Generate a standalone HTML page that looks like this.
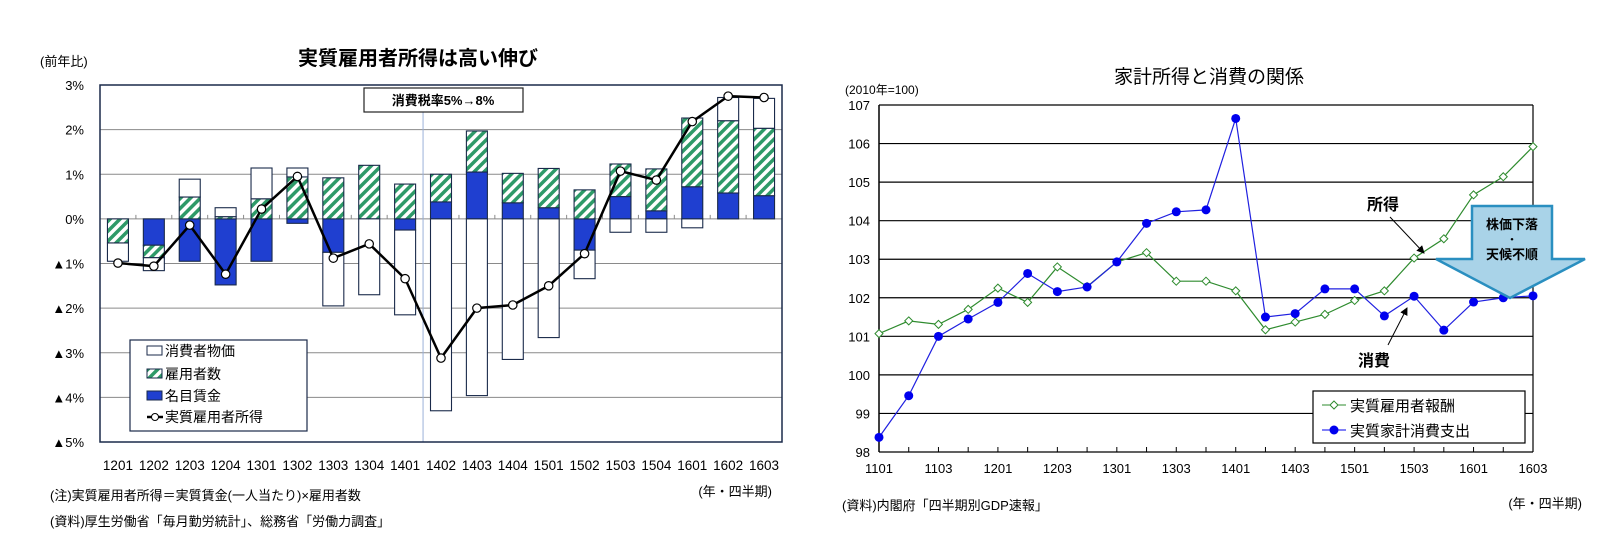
<!DOCTYPE html>
<html><head><meta charset="utf-8">
<style>
html,body{margin:0;padding:0;background:#fff;}
svg{display:block;font-family:"Liberation Sans","Noto Sans CJK JP",sans-serif;}
</style></head>
<body>
<svg id="root" width="1619" height="550" viewBox="0 0 1619 550" xmlns="http://www.w3.org/2000/svg">
<defs>
<pattern id="hatch" width="7" height="7" patternUnits="userSpaceOnUse" patternTransform="rotate(45)">
<rect width="7" height="7" fill="#fff"/>
<rect width="3.5" height="7" fill="#2e9a68"/>
</pattern>
<marker id="arr" markerWidth="8" markerHeight="8" refX="7" refY="4" orient="auto"><path d="M0,0 L8,4 L0,8 z" fill="#000"/></marker>
</defs>

<!-- LEFT CHART static -->
<text x="40" y="66" font-size="13">(前年比)</text>
<text x="418" y="65" font-size="20" font-weight="bold" text-anchor="middle">実質雇用者所得は高い伸び</text>
<g id="leftGrid"></g>
<g id="leftBars"></g>
<g id="leftLine"></g>
<rect x="100" y="85" width="682" height="357" fill="none" stroke="#1a2a4a" stroke-width="1.5"/>
<g>
<rect x="364" y="88" width="159" height="24" fill="#fff" stroke="#222" stroke-width="1.2"/>
<text x="443" y="105" font-size="13" font-weight="bold" text-anchor="middle">消費税率5%→8%</text>
</g>
<g>
<rect x="130" y="340" width="177" height="91" fill="#fff" stroke="#1a2a4a" stroke-width="1.2"/>
<rect x="147" y="346" width="15" height="9" fill="#fff" stroke="#1a2a4a"/>
<text x="165" y="356" font-size="14">消費者物価</text>
<rect x="147" y="369" width="15" height="9" fill="url(#hatch)" stroke="#1a2a4a"/>
<text x="165" y="379" font-size="14">雇用者数</text>
<rect x="147" y="391" width="15" height="9" fill="#1f3fd0" stroke="#1a2a4a"/>
<text x="165" y="401" font-size="14">名目賃金</text>
<line x1="147" y1="417" x2="163" y2="417" stroke="#000" stroke-width="2.5"/>
<circle cx="155" cy="417" r="3.5" fill="#fff" stroke="#000"/>
<text x="165" y="422" font-size="14">実質雇用者所得</text>
</g>
<text x="50" y="500" font-size="13">(注)実質雇用者所得＝実質賃金(一人当たり)×雇用者数</text>
<text x="50" y="526" font-size="13">(資料)厚生労働省「毎月勤労統計」、総務省「労働力調査」</text>
<text x="772" y="496" font-size="13" text-anchor="end">(年・四半期)</text>

<!-- RIGHT CHART static -->
<text x="1209" y="83" font-size="19" text-anchor="middle">家計所得と消費の関係</text>
<text x="845" y="94" font-size="12">(2010年=100)</text>
<g id="rightGrid"></g>
<g id="rightLines"></g>
<g>
<polygon points="1472,206 1552,206 1552,259 1585,259 1510,298 1436,259 1472,259" fill="#a9d3e8" stroke="#2a8fc0" stroke-width="2.5"/>
<text x="1512" y="229" font-size="13" font-weight="bold" text-anchor="middle">株価下落</text>
<text x="1512" y="243" font-size="10" font-weight="bold" text-anchor="middle">・</text>
<text x="1512" y="259" font-size="13" font-weight="bold" text-anchor="middle">天候不順</text>
</g>
<text x="1367" y="210" font-size="16" font-weight="bold">所得</text>
<line x1="1390" y1="217" x2="1424" y2="253" stroke="#000" stroke-width="1" marker-end="url(#arr)"/>
<text x="1358" y="366" font-size="16" font-weight="bold">消費</text>
<line x1="1388" y1="345" x2="1407" y2="308" stroke="#000" stroke-width="1" marker-end="url(#arr)"/>
<g>
<rect x="1313" y="391" width="212" height="52" fill="#fff" stroke="#000" stroke-width="1.2"/>
<line x1="1322" y1="405" x2="1346" y2="405" stroke="#2e8b2e"/>
<path d="M1334,401 L1338,405 L1334,409 L1330,405 Z" fill="#fff" stroke="#2e8b2e"/>
<text x="1350" y="411" font-size="15">実質雇用者報酬</text>
<line x1="1322" y1="430" x2="1346" y2="430" stroke="#0000ee"/>
<circle cx="1334" cy="430" r="4.5" fill="#0000ee"/>
<text x="1350" y="436" font-size="15">実質家計消費支出</text>
</g>
<text x="842" y="510" font-size="13">(資料)内閣府「四半期別GDP速報」</text>
<text x="1582" y="508" font-size="13" text-anchor="end">(年・四半期)</text>
</svg>

<script>
// ---- Left chart data ----
const leftCategories = ["1201","1202","1203","1204","1301","1302","1303","1304","1401","1402","1403","1404","1501","1502","1503","1504","1601","1602","1603"];
const wageValues = [0, -0.59, -0.95, -1.48, -0.95, -0.1, -0.75, 0, -0.25, 0.38, 1.05, 0.36, 0.25, -0.7, 0.5, 0.18, 0.72, 0.58, 0.52];
const employeeValues = [-0.54, -0.28, 0.49, 0.05, 0.45, 0.94, 0.92, 1.2, 0.78, 0.62, 0.92, 0.66, 0.88, 0.65, 0.73, 0.94, 1.54, 1.62, 1.51];
const cpiValues = [-0.41, -0.29, 0.40, 0.2, 0.69, 0.2, -1.2, -1.7, -1.9, -4.3, -3.96, -3.15, -2.66, -0.64, -0.3, -0.3, -0.2, 0.52, 0.67];
const realIncomeValues = [-0.99, -1.06, -0.14, -1.24, 0.22, 0.95, -0.88, -0.56, -1.34, -3.12, -2.0, -1.93, -1.5, -0.78, 1.07, 0.87, 2.18, 2.75, 2.72];
const leftTicks = [3, 2, 1, 0, -1, -2, -3, -4, -5];
const leftTickLabels = ["3%","2%","1%","0%","▲1%","▲2%","▲3%","▲4%","▲5%"];

// ---- Right chart data ----
const rightCategories = ["1101","1102","1103","1104","1201","1202","1203","1204","1301","1302","1303","1304","1401","1402","1403","1404","1501","1502","1503","1504","1601","1602","1603"];
const compensationValues = [101.07,101.4,101.31,101.7,102.25,101.88,102.8,102.29,102.93,103.17,102.43,102.43,102.18,101.17,101.37,101.57,101.93,102.18,103.03,103.53,104.67,105.14,105.92];
const consumptionValues = [98.38,99.46,101.0,101.45,101.88,102.63,102.16,102.28,102.93,103.93,104.23,104.28,106.65,101.5,101.59,102.23,102.23,101.53,102.04,101.16,101.89,102.0,102.05];
const rightTicks = [107,106,105,104,103,102,101,100,99,98];

const NS = "http://www.w3.org/2000/svg";
function mk(tag, attrs, parent) {
  const e = document.createElementNS(NS, tag);
  for (const k in attrs) e.setAttribute(k, attrs[k]);
  parent.appendChild(e);
  return e;
}

// Left axes
const L = {x0:100, x1:782, yTop:85, yBot:442, vTop:3, vBot:-5};
const lBand = (L.x1 - L.x0) / leftCategories.length;
const lx = i => L.x0 + (i + 0.5) * lBand;
const ly = v => L.yTop + (L.vTop - v) / (L.vTop - L.vBot) * (L.yBot - L.yTop);

const lg = document.getElementById('leftGrid');
leftTicks.forEach((t, i) => {
  const g = mk('line', {x1:L.x0, x2:L.x1, y1:ly(t), y2:ly(t), stroke:'#8a8a8a', 'stroke-width':1}, lg);
  
  
  const tx = mk('text', {x:84, y:ly(t)+5, 'font-size':13, 'text-anchor':'end'}, lg);
  tx.textContent = leftTickLabels[i];
  
  
});
leftCategories.forEach((c, i) => {
  const tk = mk('line', {x1:L.x0 + i*lBand, x2:L.x0 + i*lBand, y1:ly(0), y2:ly(0)-4, stroke:'#8a8a8a'}, lg);
  
  
  const tx = mk('text', {x:lx(i), y:470, 'font-size':13.5, 'text-anchor':'middle'}, lg);
  tx.textContent = c;
  
  
});
const divX = L.x0 + 9 * lBand;
const dv = mk('line', {x1:divX, x2:divX, y1:112, y2:L.yBot, stroke:'#9ab0d8', 'stroke-width':1}, lg);



const lb = document.getElementById('leftBars');
const bw = 21;
leftCategories.forEach((c, i) => {
  let pos = 0, neg = 0;
  const parts = [[wageValues[i], '#1f3fd0', 'bar-wage'], [employeeValues[i], 'url(#hatch)', 'bar-employees'], [cpiValues[i], '#ffffff', 'bar-cpi']];
  parts.forEach(p => {
    const v = p[0];
    if (v === 0) return;
    let a, b;
    if (v > 0) { a = pos; b = pos + v; pos = b; } else { a = neg; b = neg + v; neg = b; }
    const yA = ly(Math.max(a, b)), yB = ly(Math.min(a, b));
    const r = mk('rect', {x:lx(i)-bw/2, y:yA, width:bw, height:Math.max(0.5, yB-yA), fill:p[1], stroke:'#1a2a4a', 'stroke-width':1.1}, lb);
    
    
  });
});

const ll = document.getElementById('leftLine');
const lpts = realIncomeValues.map((v, i) => lx(i) + ',' + ly(v)).join(' ');
const pl = mk('polyline', {points:lpts, fill:'none', stroke:'#000', 'stroke-width':2.5}, ll);


realIncomeValues.forEach((v, i) => {
  const m = mk('circle', {cx:lx(i), cy:ly(v), r:4.2, fill:'#fff', stroke:'#000', 'stroke-width':1.2}, ll);
  
  
});

// Right axes
const R = {x0:879, x1:1533, yTop:105, yBot:452, vTop:107, vBot:98};
const rStep = (R.x1 - R.x0) / (rightCategories.length - 1);
const rx = i => R.x0 + i * rStep;
const ry = v => R.yTop + (R.vTop - v) / (R.vTop - R.vBot) * (R.yBot - R.yTop);

const rg = document.getElementById('rightGrid');
rightTicks.forEach(t => {
  const g = mk('line', {x1:R.x0, x2:R.x1, y1:ry(t), y2:ry(t), stroke:'#000', 'stroke-width':1.2}, rg);
  
  
  const tx = mk('text', {x:870, y:ry(t)+5, 'font-size':13, 'text-anchor':'end'}, rg);
  tx.textContent = String(t);
  
  
});
const ax1 = mk('line', {x1:R.x0, x2:R.x0, y1:R.yTop, y2:R.yBot, stroke:'#000', 'stroke-width':1.5}, rg);


const ax2 = mk('line', {x1:R.x1, x2:R.x1, y1:R.yTop, y2:R.yBot, stroke:'#000', 'stroke-width':1.2}, rg);


rightCategories.forEach((c, i) => {
  const tk = mk('line', {x1:rx(i), x2:rx(i), y1:R.yBot, y2:R.yBot-5, stroke:'#000'}, rg);
  
  
  if (i % 2 === 0) {
    const tx = mk('text', {x:rx(i), y:473, 'font-size':13, 'text-anchor':'middle'}, rg);
    tx.textContent = c;
    
    
  }
});

const rl = document.getElementById('rightLines');
const gl = mk('polyline', {points:compensationValues.map((v,i)=>rx(i)+','+ry(v)).join(' '), fill:'none', stroke:'#2e8b2e', 'stroke-width':1.2}, rl);


const bl = mk('polyline', {points:consumptionValues.map((v,i)=>rx(i)+','+ry(v)).join(' '), fill:'none', stroke:'#2020e0', 'stroke-width':1.2}, rl);


compensationValues.forEach((v, i) => {
  const x = rx(i), y = ry(v);
  const d = mk('path', {d:`M${x},${y-4} L${x+4},${y} L${x},${y+4} L${x-4},${y} Z`, fill:'#fff', stroke:'#2e8b2e', 'stroke-width':1}, rl);
  
  
});
consumptionValues.forEach((v, i) => {
  const c = mk('circle', {cx:rx(i), cy:ry(v), r:4.5, fill:'#0000ee'}, rl);
  
  
});
</script>
</body></html>
